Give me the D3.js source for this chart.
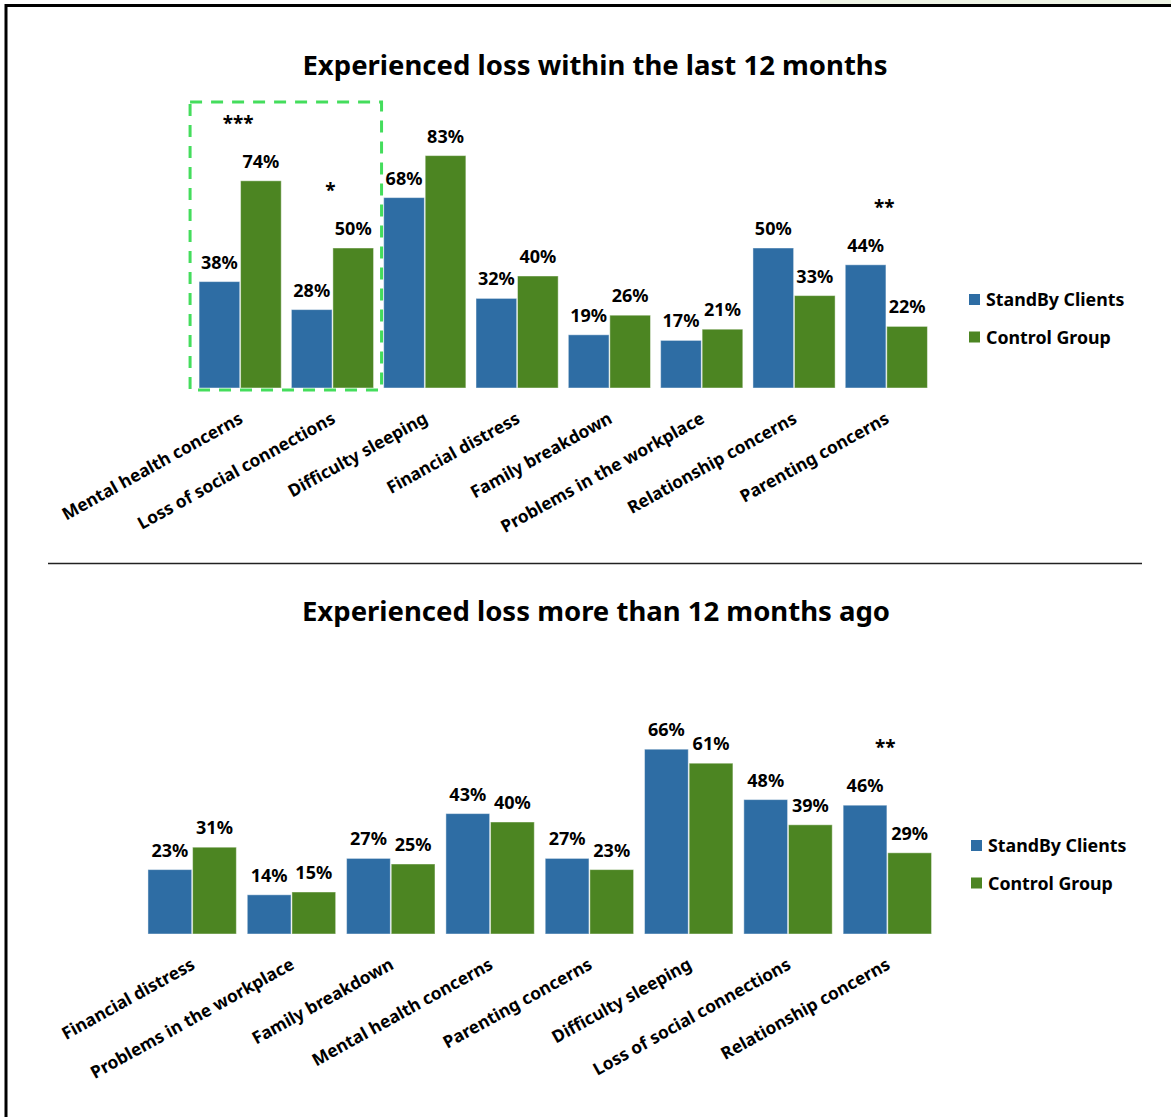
<!DOCTYPE html>
<html>
<head>
<meta charset="utf-8">
<script src="https://cdn.jsdelivr.net/npm/d3@7"></script>
<style>
  body { margin: 0; background: #fff; }
  svg { display: block; font-family: "Noto Sans", "Open Sans", sans-serif; }
</style>
</head>
<body>
<svg id="chart"></svg>
<script>
var seriesNames = ["StandBy Clients", "Control Group"]
var colors = ["#2e6da4", "#4c8522"]

var recentCategories = ["Mental health concerns", "Loss of social connections", "Difficulty sleeping", "Financial distress",
                        "Family breakdown", "Problems in the workplace", "Relationship concerns", "Parenting concerns"]
var recentStandBy = [38, 28, 68, 32, 19, 17, 50, 44]
var recentControl = [74, 50, 83, 40, 26, 21, 33, 22]
var recentSig = ["***", "*", "", "", "", "", "", "**"]

var olderCategories = ["Financial distress", "Problems in the workplace", "Family breakdown", "Mental health concerns",
                       "Parenting concerns", "Difficulty sleeping", "Loss of social connections", "Relationship concerns"]
var olderStandBy = [23, 14, 27, 43, 27, 66, 48, 46]
var olderControl = [31, 15, 25, 40, 23, 61, 39, 29]
var olderSig = ["", "", "", "", "", "", "", "**"]

var dimensions = { width: 1171, height: 1117 }

var svg = d3.select("#chart")
            .attr("width", dimensions.width)
            .attr("height", dimensions.height)

// faint strip above the frame at top right
svg.append("rect").attr("x", 820).attr("y", 0).attr("width", 351).attr("height", 4).attr("fill", "#eef3e4")

// outer frame (left + top)
svg.append("path")
   .attr("d", "M6,1117 V5.5 H1171")
   .attr("fill", "none").attr("stroke", "#000").attr("stroke-width", 3)

// divider between charts
svg.append("line")
   .attr("x1", 48).attr("x2", 1142).attr("y1", 563.5).attr("y2", 563.5)
   .attr("stroke", "#222").attr("stroke-width", 1.5)

function drawChart(opts) {
    var data = opts.categories.map((c, i) => ({ cat: c, values: [opts.standby[i], opts.control[i]], sig: opts.sig[i] }))

    var g = svg.append("g")

    var xScale = d3.scaleBand()
                   .domain(opts.categories)
                   .range(opts.xRange)
                   .paddingInner(opts.pad)
                   .paddingOuter(opts.pad / 2)

    var subScale = d3.scaleBand()
                     .domain([0, 1])
                     .range([0, xScale.bandwidth()])
                     .paddingInner(0.02)

    var yScale = d3.scaleLinear()
                   .domain([0, 100])
                   .range([opts.baseline, opts.baseline - 280])

    g.append("text")
     .attr("x", opts.titleX)
     .attr("y", opts.titleY)
     .attr("text-anchor", "middle")
     .style("font-size", "27.5px")
     .style("font-weight", "bold")
     .text(opts.title)

    var groups = g.selectAll("g.grp")
                  .data(data)
                  .enter()
                  .append("g")
                  .attr("class", "grp")
                  .attr("transform", d => `translate(${xScale(d.cat)},0)`)

    groups.selectAll("rect")
          .data(d => d.values)
          .enter()
          .append("rect")
          .attr("x", (v, i) => subScale(i))
          .attr("y", v => yScale(v))
          .attr("width", subScale.bandwidth())
          .attr("height", v => yScale(0) - yScale(v))
          .attr("fill", (v, i) => colors[i])
          .attr("stroke", "#ffffff")
          .attr("stroke-opacity", 0.45)
          .attr("stroke-width", 1)

    groups.selectAll("text.val")
          .data(d => d.values)
          .enter()
          .append("text")
          .attr("class", "val")
          .attr("x", (v, i) => subScale(i) + subScale.bandwidth() / 2)
          .attr("y", v => yScale(v) - 13)
          .attr("text-anchor", "middle")
          .style("font-size", "18px")
          .style("font-weight", "bold")
          .text(v => v + "%")

    groups.append("text")
          .attr("x", xScale.bandwidth() / 2 - 2)
          .attr("y", d => yScale(d3.max(d.values)) - 51)
          .attr("text-anchor", "middle")
          .style("font-size", "19px")
          .style("font-weight", "bold")
          .text(d => d.sig)

    // rotated category labels
    groups.append("text")
          .attr("transform", `translate(${xScale.bandwidth() / 2 + 4},${opts.baseline + 34}) rotate(-29)`)
          .attr("text-anchor", "end")
          .style("font-size", "17.3px")
          .style("font-weight", "bold")
          .text(d => d.cat)

    // legend
    var legend = g.append("g").attr("transform", `translate(${opts.legendX},${opts.legendY})`)
    seriesNames.forEach((name, i) => {
        legend.append("rect")
              .attr("x", 0).attr("y", i * 37.5)
              .attr("width", 11).attr("height", 11)
              .attr("fill", colors[i])
        legend.append("text")
              .attr("x", 17).attr("y", i * 37.5 + 12)
              .style("font-size", "17.8px")
              .style("font-weight", "bold")
              .text(name)
    })

    return { xScale: xScale, yScale: yScale }
}

var topChart = drawChart({
    title: "Experienced  loss within the last 12 months",
    titleX: 595, titleY: 75,
    categories: recentCategories, standby: recentStandBy, control: recentControl, sig: recentSig,
    xRange: [194, 932.5], pad: 0.11, baseline: 388,
    legendX: 969, legendY: 294
})

// dashed highlight around the first two categories
var x0 = topChart.xScale(recentCategories[0]) - 9
var x1 = topChart.xScale(recentCategories[1]) + topChart.xScale.bandwidth() + 8
svg.append("rect")
   .attr("x", x0).attr("y", topChart.yScale(100) - 6)
   .attr("width", x1 - x0).attr("height", topChart.yScale(0) - topChart.yScale(100) + 8)
   .attr("fill", "none")
   .attr("stroke", "#44dd5c")
   .attr("stroke-width", 3)
   .attr("stroke-dasharray", "12,9")

drawChart({
    title: "Experienced  loss more than 12 months ago",
    titleX: 596, titleY: 621,
    categories: olderCategories, standby: olderStandBy, control: olderControl, sig: olderSig,
    xRange: [142.5, 937], pad: 0.11, baseline: 934,
    legendX: 971, legendY: 840
})
</script>
</body>
</html>
